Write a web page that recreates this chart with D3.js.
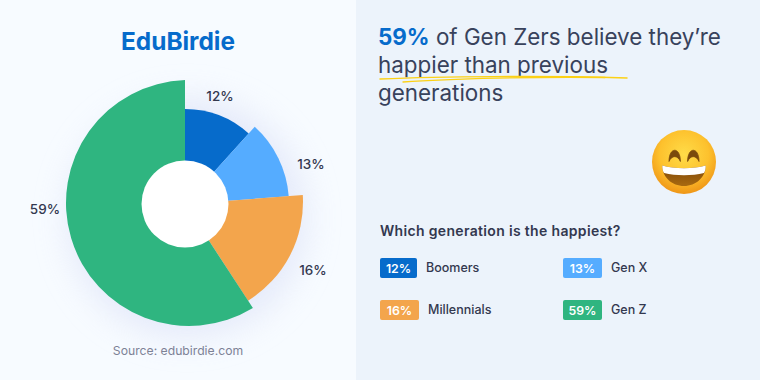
<!DOCTYPE html>
<html>
<head>
<meta charset="utf-8">
<script src="https://cdn.jsdelivr.net/npm/d3@7"></script>
<style>
  html, body { margin: 0; padding: 0; background: #ecf3fb; overflow: hidden; }
  svg { display: block; }
  text { font-family: Inter, "Open Sans", sans-serif; }
</style>
</head>
<body>
<svg id="chart" width="760" height="380"></svg>
<script>
// -----------------------------
// DATA
// -----------------------------
const generations = ["Boomers", "Gen X", "Millennials", "Gen Z"];
// printed values
const shares = [12, 13, 16, 59];
// the wedges in the picture are not quite true to the printed values, these are measured off it
const drawnShares = [11.7, 12.1, 17, 59.2];
const sliceColors = ["#066bcb", "#55acff", "#f3a54c", "#2fb580"];

const svg = d3.select("#chart");
const defs = svg.append("defs");

// -----------------------------
// BACKGROUND
// -----------------------------
svg.append("rect").attr("width", 760).attr("height", 380).attr("fill", "#ecf3fb");
svg.append("rect").attr("width", 356).attr("height", 380).attr("fill", "#f7fbff");

// -----------------------------
// DONUT
// -----------------------------
const cx = 185;
const cy = 204;
const innerRadius = 43.5;

// each slice sticks out by a different amount, not proportional to its value
const radius = d3.scaleOrdinal().domain(generations).range([95, 104, 116, 123]);
// the two big slices have their arcs slightly off the hub
const shiftX = d3.scaleOrdinal().domain(generations).range([0, 0, 2, 4]);
const shiftY = d3.scaleOrdinal().domain(generations).range([0, 0, -2, -1]);

const labelX = d3.scaleOrdinal().domain(generations).range([220, 311, 313, 45]);
const labelY = d3.scaleOrdinal().domain(generations).range([96, 164, 270, 209]);

const pie = d3.pie().value(d => d).sort(null);
const slices = pie(drawnShares).map((d, i) => ({ ...d, name: generations[i] }));

// where a ray from the hub meets the slice's own circle, as an angle on that circle
function rimAngle(theta, ox, oy, r) {
  const dx = Math.sin(theta);
  const dy = -Math.cos(theta);
  const dot = dx * ox + dy * oy;
  const t = dot + Math.sqrt(dot * dot - ox * ox - oy * oy + r * r);
  return Math.atan2(t * dy - oy, t * dx - ox);
}

function slicePath(d) {
  const ox = shiftX(d.name);
  const oy = shiftY(d.name);
  const r = radius(d.name);
  const p = d3.path();
  p.moveTo(0, 0);
  p.arc(ox, oy, r, rimAngle(d.startAngle, ox, oy, r), rimAngle(d.endAngle, ox, oy, r));
  p.closePath();
  return p.toString();
}

const shadow = defs.append("filter").attr("id", "soft")
  .attr("x", "-40%").attr("y", "-40%").attr("width", "180%").attr("height", "180%");
shadow.append("feGaussianBlur").attr("stdDeviation", 16);

svg.append("circle")
  .attr("cx", cx + 2).attr("cy", cy + 14).attr("r", 120)
  .attr("fill", "#dfe4f8").attr("opacity", 0.75)
  .attr("filter", "url(#soft)");

const donut = svg.append("g").attr("transform", `translate(${cx},${cy})`);

donut.selectAll("path")
  .data(slices)
  .join("path")
  .attr("d", slicePath)
  .attr("fill", (d, i) => sliceColors[i]);

donut.append("circle").attr("r", innerRadius).attr("fill", "#fff");

svg.append("g").selectAll("text")
  .data(generations)
  .join("text")
  .attr("x", d => labelX(d))
  .attr("y", d => labelY(d))
  .attr("text-anchor", "middle")
  .attr("dy", "0.35em")
  .attr("font-size", 13.5)
  .attr("font-weight", 500)
  .attr("fill", "#33384f")
  .text((d, i) => shares[i] + "%");

// -----------------------------
// LEFT TEXT
// -----------------------------
svg.append("text")
  .attr("x", 178).attr("y", 50)
  .attr("text-anchor", "middle")
  .attr("font-size", 24.4)
  .attr("font-weight", 700)
  .attr("fill", "#066bcb")
  .text("EduBirdie");

svg.append("text")
  .attr("x", 178).attr("y", 355)
  .attr("text-anchor", "middle")
  .attr("font-size", 12.2)
  .attr("fill", "#7d8296")
  .text("Source: edubirdie.com");

// -----------------------------
// HEADLINE
// -----------------------------
const headline = svg.append("g")
  .attr("font-size", 22.4)
  .attr("fill", "#38425c");

const line1 = headline.append("text").attr("x", 378).attr("y", 44.5);
line1.append("tspan").attr("font-weight", 700).attr("fill", "#066bcb").text("59%");
line1.append("tspan").text(" of Gen Zers believe they\u2019re");
headline.append("text").attr("x", 378).attr("y", 73).text("happier than previous");
headline.append("text").attr("x", 378).attr("y", 101).text("generations");

// yellow marker underline
svg.append("path")
  .attr("d", "M380,79 C440,76.5 540,75.5 627,78")
  .attr("fill", "none").attr("stroke", "#fcd116").attr("stroke-width", 1.5).attr("stroke-linecap", "round");
svg.append("path")
  .attr("d", "M403,82 C450,78.5 540,76.5 605,77.5")
  .attr("fill", "none").attr("stroke", "#fcd116").attr("stroke-width", 1.3).attr("stroke-linecap", "round");

// -----------------------------
// EMOJI
// -----------------------------
const face = defs.append("radialGradient").attr("id", "face")
  .attr("cx", "50%").attr("cy", "38%").attr("r", "64%");
face.append("stop").attr("offset", "0%").attr("stop-color", "#ffdc48");
face.append("stop").attr("offset", "60%").attr("stop-color", "#fdc12d");
face.append("stop").attr("offset", "100%").attr("stop-color", "#ee9215");

const mouthFill = defs.append("linearGradient").attr("id", "mouth")
  .attr("x1", 0).attr("y1", 0).attr("x2", 0).attr("y2", 1);
mouthFill.append("stop").attr("offset", "0%").attr("stop-color", "#7d4508");
mouthFill.append("stop").attr("offset", "100%").attr("stop-color", "#a86a10");

const emoji = svg.append("g").attr("transform", "translate(684,162)");
emoji.append("circle").attr("r", 32).attr("fill", "url(#face)");
[-9.3, 9.3].forEach(x => {
  emoji.append("path")
    .attr("d", `M${x - 5.7},-0.5 C${x - 5.7},-15.5 ${x + 5.7},-15.5 ${x + 5.7},-0.5 C${x + 3},-7 ${x - 3},-7 ${x - 5.7},-0.5 Z`)
    .attr("fill", "#7a4a0c").attr("stroke", "#7a4a0c").attr("stroke-width", 0.8).attr("stroke-linejoin", "round");
});
emoji.append("path")
  .attr("d", "M-21.7,3.5 C-10,7 10,7 21.7,3.5 C22,15 12,24 0,24 C-12,24 -22,15 -21.7,3.5 Z")
  .attr("fill", "url(#mouth)");
emoji.append("path")
  .attr("d", "M-21.7,3.5 C-10,7 10,7 21.7,3.5 C21.8,6.5 21.2,9 20,11 C8,14 -8,14 -20,11 C-21.2,9 -21.8,6.5 -21.7,3.5 Z")
  .attr("fill", "#fff");

// -----------------------------
// LEGEND
// -----------------------------
svg.append("text")
  .attr("x", 380).attr("y", 236)
  .attr("font-size", 14)
  .attr("font-weight", 600)
  .attr("letter-spacing", 0.33)
  .attr("fill", "#33384f")
  .text("Which generation is the happiest?");

const legendX = d3.scaleOrdinal().domain(generations).range([380, 563, 380, 563]);
const legendY = d3.scaleOrdinal().domain(generations).range([258, 258, 300, 300]);
const chipWidth = d3.scaleOrdinal().domain(generations).range([37, 39, 39, 39]);

const legend = svg.append("g").selectAll("g")
  .data(generations)
  .join("g")
  .attr("transform", d => `translate(${legendX(d)},${legendY(d)})`);

legend.append("rect")
  .attr("width", d => chipWidth(d))
  .attr("height", 20)
  .attr("rx", 2)
  .attr("fill", (d, i) => sliceColors[i]);

legend.append("text")
  .attr("x", d => chipWidth(d) / 2)
  .attr("y", 14.5)
  .attr("text-anchor", "middle")
  .attr("font-size", 12.3)
  .attr("font-weight", 600)
  .attr("fill", "#fff")
  .text((d, i) => shares[i] + "%");

legend.append("text")
  .attr("x", d => chipWidth(d) + 9)
  .attr("y", 13.5)
  .attr("font-size", 12.5)
  .attr("font-weight", 500)
  .attr("fill", "#33384f")
  .text(d => d);
</script>
</body>
</html>
